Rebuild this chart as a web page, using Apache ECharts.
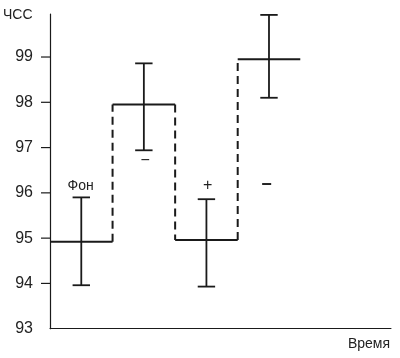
<!DOCTYPE html>
<html><head><meta charset="utf-8">
<script src="https://cdn.jsdelivr.net/npm/echarts@6/dist/echarts.min.js"></script>
<style>html,body{margin:0;padding:0;background:#fff}#c{width:400px;height:358px}</style>
</head><body><div id="c"></div>
<script>
// Data
const stepStarts = [0, 1, 2, 3];           // period start (time units)
const levels = [94.92, 97.95, 94.96, 98.95];  // ЧСС level in each period
const errLow = [93.96, 96.94, 93.93, 98.10];
const errHigh = [95.90, 98.86, 95.86, 99.93];
const noteText = ["Фон", "−", "+", "−"];
const noteX = [0.49, 1.52, 2.52, 3.46];
const noteY = [96.15, 96.72, 96.15, 96.18];
const noteBold = [false, false, false, true];
const tickVals = [94, 95, 96, 97, 98, 99];

const C = '#1a1a1a';
const F = 'Liberation Sans, Arial, sans-serif';
const chart = echarts.init(document.getElementById('c'), null, {renderer: 'canvas'});

const stepData = levels.map((v, i) => [stepStarts[i], v, i < levels.length - 1 ? levels[i + 1] : v, i < levels.length - 1 ? 1 : 0]);
const errData = levels.map((v, i) => [stepStarts[i] + 0.5, errLow[i], errHigh[i]]);
const noteData = noteText.map((t, i) => [noteX[i], noteY[i], t, noteBold[i] ? 1 : 0]);

chart.setOption({
  animation: false,
  grid: {left: 50, right: 9, top: 14, bottom: 29.3},
  xAxis: {
    type: 'value', min: 0, max: 5.45,
    axisLine: {show: true, onZero: false, lineStyle: {color: C, width: 1}},
    axisTick: {show: false}, axisLabel: {show: false}, splitLine: {show: false}
  },
  yAxis: {
    type: 'value', min: 93, max: 99.95, interval: 1,
    axisLine: {show: true, lineStyle: {color: C, width: 1.2}},
    axisTick: {show: false},
    axisLabel: {
      margin: 17, color: '#222', fontSize: 16, fontFamily: F,
      formatter: v => (Math.abs(v - Math.round(v)) < 1e-6 ? String(Math.round(v)) : '')
    },
    splitLine: {show: false}
  },
  graphic: [
    {type: 'text', left: 3, top: 8, style: {text: 'ЧСС', fontSize: 14, fill: '#222', fontFamily: F}},
    {type: 'text', right: 10, top: 337, style: {text: 'Время', fontSize: 14, fill: '#222', fontFamily: F}}
  ],
  series: [
    {
      type: 'custom', data: tickVals.map(v => [0, v]), silent: true,
      renderItem: (p, api) => {
        const pt = api.coord([api.value(0), api.value(1)]);
        return {type: 'line', shape: {x1: pt[0] - 9, y1: pt[1], x2: pt[0], y2: pt[1]}, style: {stroke: C, lineWidth: 1.2}};
      }
    },
    {
      type: 'custom', data: stepData, silent: true,
      renderItem: (p, api) => {
        const x0 = api.value(0), y = api.value(1), yn = api.value(2), hasNext = api.value(3);
        const a = api.coord([x0, y]), b = api.coord([x0 + 1, y]);
        const children = [{type: 'line', shape: {x1: a[0], y1: a[1], x2: b[0], y2: b[1]}, style: {stroke: C, lineWidth: 2}}];
        if (hasNext) {
          const c = api.coord([x0 + 1, yn]);
          children.push({type: 'line', shape: {x1: b[0], y1: b[1], x2: c[0], y2: c[1]}, style: {stroke: C, lineWidth: 2, lineDash: [8, 5]}});
        }
        return {type: 'group', children};
      }
    },
    {
      type: 'custom', data: errData, silent: true,
      renderItem: (p, api) => {
        const x = api.value(0);
        const lo = api.coord([x, api.value(1)]), hi = api.coord([x, api.value(2)]);
        const w = 8.7;
        const s = {stroke: C, lineWidth: 1.8};
        return {type: 'group', children: [
          {type: 'line', shape: {x1: lo[0], y1: lo[1], x2: hi[0], y2: hi[1]}, style: s},
          {type: 'line', shape: {x1: lo[0] - w, y1: lo[1], x2: lo[0] + w, y2: lo[1]}, style: s},
          {type: 'line', shape: {x1: hi[0] - w, y1: hi[1], x2: hi[0] + w, y2: hi[1]}, style: s}
        ]};
      }
    },
    {
      type: 'custom', data: noteData, silent: true,
      renderItem: (p, api) => {
        const pt = api.coord([api.value(0), api.value(1)]);
        const bold = api.value(3) === 1;
        const t = noteData[p.dataIndex][2];
        return {type: 'text', x: pt[0], y: pt[1], style: {
          text: t, fill: '#222', align: 'center', verticalAlign: 'middle',
          fontSize: bold ? 18 : (t === 'Фон' ? 14 : 16), fontWeight: bold ? 'bold' : 'normal',
          fontFamily: F
        }};
      }
    }
  ]
});
</script></body></html>
